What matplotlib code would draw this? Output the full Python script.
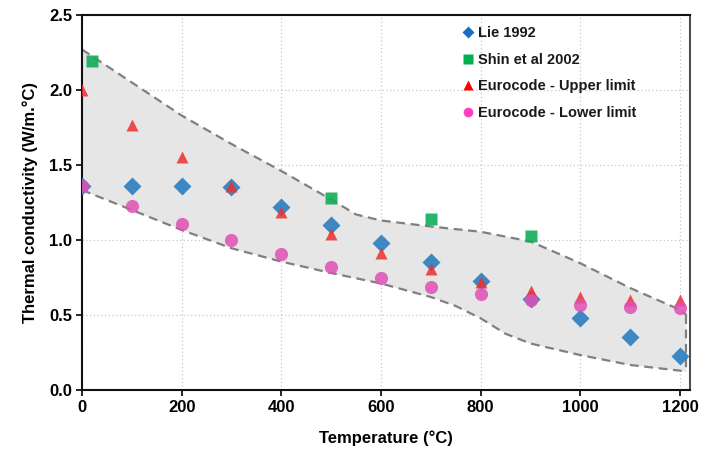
import matplotlib
matplotlib.use("Agg")
import matplotlib.pyplot as plt
from matplotlib.lines import Line2D

plt.rcParams['font.family'] = ['Liberation Sans', 'DejaVu Sans']
plt.rcParams['font.weight'] = 'bold'

# Data
temps = [0, 100, 200, 300, 400, 500, 600, 700, 800, 900, 1000, 1100, 1200]
lie_1992 = [1.36, 1.36, 1.36, 1.35, 1.22, 1.10, 0.98, 0.855, 0.73, 0.605, 0.48, 0.355, 0.23]
shin_temps = [20, 500, 700, 900]
shin_2002 = [2.19, 1.28, 1.14, 1.03]
euro_upper = [2.00, 1.765, 1.555, 1.36, 1.19, 1.04, 0.915, 0.81, 0.72, 0.66, 0.62, 0.60, 0.60]
euro_lower = [1.36, 1.23, 1.11, 1.00, 0.91, 0.82, 0.75, 0.69, 0.64, 0.60, 0.57, 0.555, 0.55]

# Shaded band boundaries
band_up_x = [0, 100, 200, 300, 400, 500, 550, 600, 700, 800, 900, 1000, 1100, 1200, 1213]
band_up_y = [2.27, 2.05, 1.83, 1.64, 1.46, 1.27, 1.17, 1.13, 1.09, 1.055, 0.99, 0.845, 0.68, 0.535, 0.50]
band_lo_x = [0, 100, 200, 300, 400, 500, 600, 700, 750, 800, 850, 900, 1000, 1100, 1200, 1213]
band_lo_y = [1.333, 1.20, 1.067, 0.945, 0.856, 0.78, 0.71, 0.62, 0.56, 0.478, 0.375, 0.31, 0.233, 0.167, 0.129, 0.12]

fig = plt.figure(figsize=(7.05, 4.5), dpi=100)
ax = fig.add_axes([0.1163, 0.1333, 0.8624, 0.8334])

poly_x = band_up_x + band_lo_x[::-1]
poly_y = band_up_y + band_lo_y[::-1]
ax.fill(poly_x, poly_y, color='#e6e6e6', zorder=1, lw=0)
dash = dict(color='#808080', lw=1.6, ls=(0, (4, 2.5)), zorder=2)
ax.plot(band_up_x, band_up_y, **dash)
ax.plot(band_lo_x, band_lo_y, **dash)
ax.plot([band_up_x[-1], band_lo_x[-1]], [band_up_y[-1], band_lo_y[-1]], **dash)

ax.grid(True, color='#c8c8c8', lw=0.9, ls=(0, (1, 2)), zorder=0)
ax.set_axisbelow(True)

c_blue, c_green, c_red, c_pink = '#1a6fc4', '#00b050', '#ff0000', '#ff40c0'
ax.plot(temps, lie_1992, 'D', color='#2a7ec0', ms=9, alpha=0.9, mec='none', zorder=3)
ax.plot(shin_temps, shin_2002, 's', color='#10ad58', ms=8, alpha=0.9, mec='none', zorder=3)
ax.plot(temps, euro_upper, '^', color='#ee3030', ms=9, alpha=0.85, mec='none', zorder=4)
ax.plot(temps, euro_lower, 'o', color='#e050b5', ms=9.5, alpha=0.85, mec='none', zorder=5)

ax.set_xlim(0, 1220)
ax.set_ylim(0, 2.5)
ax.set_xticks([0, 200, 400, 600, 800, 1000, 1200])
ax.set_yticks([0.0, 0.5, 1.0, 1.5, 2.0, 2.5])
ax.set_yticklabels(['0.0', '0.5', '1.0', '1.5', '2.0', '2.5'])
ax.tick_params(labelsize=12, length=4, width=1.2, pad=3)
for s in ['left', 'bottom', 'top']:
    ax.spines[s].set_linewidth(1.5)
    ax.spines[s].set_color('#111111')
ax.spines['right'].set_linewidth(1.5)
ax.spines['right'].set_color('#505050')

ax.set_xlabel('Temperature (°C)', fontsize=12, fontweight='bold', labelpad=11)
ax.set_ylabel('Thermal conductivity (W/m.°C)', fontsize=12, fontweight='bold', labelpad=8)

handles = [
    Line2D([], [], marker='D', ls='none', color=c_blue, ms=6, mec='none'),
    Line2D([], [], marker='s', ls='none', color=c_green, ms=7, mec='none'),
    Line2D([], [], marker='^', ls='none', color=c_red, ms=7, mec='none'),
    Line2D([], [], marker='o', ls='none', color=c_pink, ms=7, mec='none'),
]
labels = ['Lie 1992', 'Shin et al 2002', 'Eurocode - Upper limit', 'Eurocode - Lower limit']
leg = ax.legend(handles, labels, loc='upper left', bbox_to_anchor=(0.615, 0.985),
                frameon=False, fontsize=10.5, handlelength=0.8, handletextpad=0.3,
                labelspacing=0.85, borderaxespad=0)
for t in leg.get_texts():
    t.set_fontweight('bold')
    t.set_color('#1a1a1a')

fig.savefig('out.png', dpi=100)
